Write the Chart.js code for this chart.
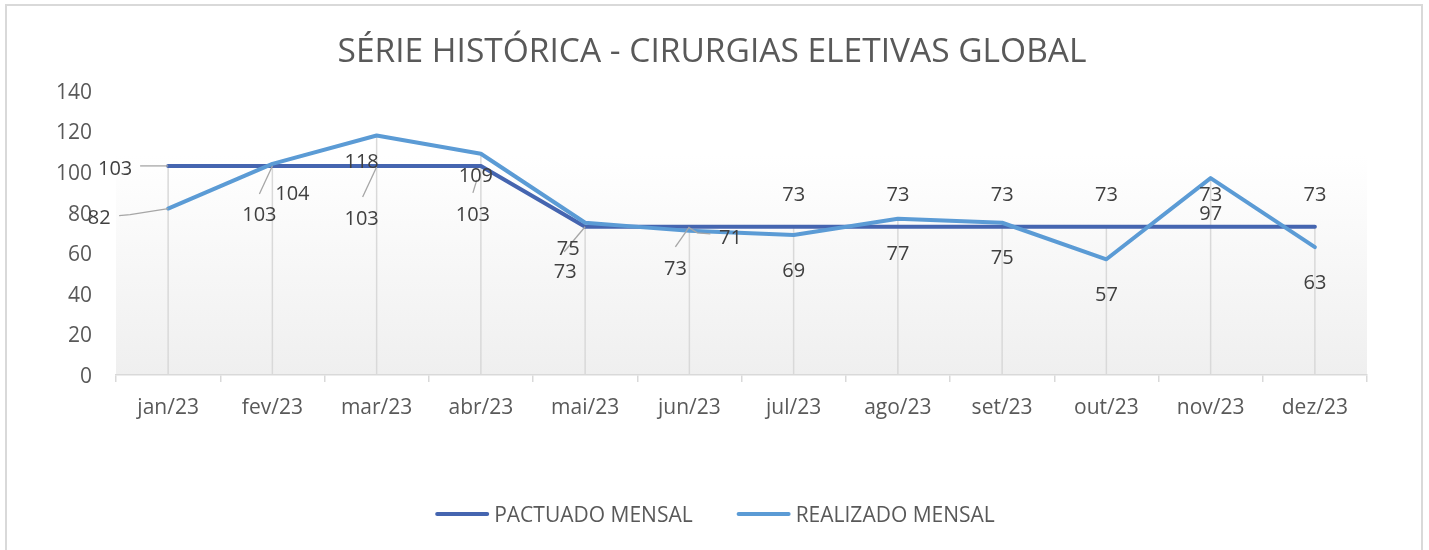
<!DOCTYPE html>
<html><head><meta charset="utf-8">
<script src="https://cdn.jsdelivr.net/npm/chart.js@4/dist/chart.umd.min.js"></script>
<style>html,body{margin:0;padding:0;background:#fff;}#wrap{width:1429px;height:550px;position:relative;}canvas{display:block;}</style>
</head><body><div id="wrap"><canvas id="c" width="1429" height="550"></canvas></div>
<script>
const categories = ['jan/23','fev/23','mar/23','abr/23','mai/23','jun/23','jul/23','ago/23','set/23','out/23','nov/23','dez/23'];
const pactuado = [103,103,103,103,73,73,73,73,73,73,73,73];
const realizado = [82,104,118,109,75,71,69,77,75,57,97,63];
const yTicks = [0,20,40,60,80,100,120,140];
const seriesNames = ['PACTUADO MENSAL','REALIZADO MENSAL'];
const chartTitle = 'SÉRIE HISTÓRICA - CIRURGIAS ELETIVAS GLOBAL';

// label placement (px offsets from each point) and leader polylines
const pactuadoLabelPos = [
  {dx:-53,dy:1,leader:[[-28,0],[0,0]]},
  {dx:-13,dy:47,leader:[[-13,28],[0,0]]},
  {dx:-15,dy:51,leader:[[-14,31],[0,1]]},
  {dx:-8,dy:47,leader:[[-8,27],[-4,14]]},
  {dx:-20,dy:43},
  {dx:-14,dy:40,leader:[[-14,20],[0,0]]},
  {dx:0,dy:-34},{dx:0,dy:-34},{dx:0,dy:-34},{dx:0,dy:-34},{dx:0,dy:-34},{dx:0,dy:-34}
];
const realizadoLabelPos = [
  {dx:-69,dy:8,leader:[[-49,7],[-38,6],[0,0]]},
  {dx:20,dy:28},
  {dx:-15,dy:25},
  {dx:-5,dy:21},
  {dx:-17,dy:25,leader:[[-21,29],[0,4]]},
  {dx:41,dy:5,leader:[[21,3],[8,2],[0,-3]]},
  {dx:0,dy:34},{dx:0,dy:34},{dx:0,dy:34},{dx:0,dy:34},{dx:0,dy:34},{dx:0,dy:34}
];
const labelPositions = [pactuadoLabelPos, realizadoLabelPos];

const FONT = "'Open Sans', sans-serif";
const TEXT_SHIFT = 2; // Open Sans sits a little high with 'middle' baseline

const decorPlugin = {
  id: 'decor',
  beforeDraw(chart) {
    const ctx = chart.ctx, ca = chart.chartArea, y = chart.scales.y, x = chart.scales.x;
    ctx.save();
    ctx.strokeStyle = '#d9d9d9'; ctx.lineWidth = 2;
    ctx.strokeRect(6, 5, 1416, 600);
    const top = y.getPixelForValue(108);
    const g = ctx.createLinearGradient(0, top, 0, ca.bottom);
    g.addColorStop(0, '#ffffff'); g.addColorStop(1, '#efefef');
    ctx.fillStyle = g;
    ctx.fillRect(ca.left, top, ca.right - ca.left, ca.bottom - top);
    ctx.strokeStyle = '#d9d9d9'; ctx.lineWidth = 1.5;
    const ds = chart.data.datasets;
    for (let i = 0; i < categories.length; i++) {
      const mx = Math.max(...ds.map(d => d.data[i]));
      const px = x.getPixelForValue(i);
      ctx.beginPath(); ctx.moveTo(px, y.getPixelForValue(mx)); ctx.lineTo(px, ca.bottom); ctx.stroke();
    }
    ctx.restore();
  },
  afterDatasetsDraw(chart) {
    const ctx = chart.ctx;
    ctx.save();
    ctx.font = '20px ' + FONT;
    ctx.textAlign = 'center'; ctx.textBaseline = 'middle';
    chart.data.datasets.forEach((d, di) => {
      const meta = chart.getDatasetMeta(di);
      meta.data.forEach((pt, i) => {
        const pos = labelPositions[di][i];
        if (pos.leader) {
          ctx.strokeStyle = '#a6a6a6'; ctx.lineWidth = 1.3;
          ctx.beginPath();
          pos.leader.forEach((p, k) => { const fx = pt.x + p[0], fy = pt.y + p[1]; k ? ctx.lineTo(fx, fy) : ctx.moveTo(fx, fy); });
          ctx.stroke();
        }
        ctx.fillStyle = '#404040';
        ctx.fillText(String(d.data[i]), pt.x + pos.dx, pt.y + pos.dy + TEXT_SHIFT);
      });
    });
    // legend
    ctx.font = '21px ' + FONT;
    ctx.textAlign = 'left';
    const sample = 54, gapS = 5, gapItems = 44;
    const widths = chart.data.datasets.map(d => sample + gapS + ctx.measureText(d.label).width);
    const total = widths.reduce((a, b) => a + b, 0) + gapItems;
    let lx = 715 - total / 2; const ly = 514;
    chart.data.datasets.forEach((d, di) => {
      ctx.strokeStyle = d.borderColor; ctx.lineWidth = 4; ctx.lineCap = 'round';
      ctx.beginPath(); ctx.moveTo(lx + 2, ly); ctx.lineTo(lx + sample - 2, ly); ctx.stroke();
      ctx.fillStyle = '#595959';
      ctx.fillText(d.label, lx + sample + gapS, ly + TEXT_SHIFT);
      lx += widths[di] + gapItems;
    });
    ctx.restore();
  }
};

function build() {
  new Chart(document.getElementById('c'), {
    type: 'line',
    data: {
      labels: categories,
      datasets: [
        {label: seriesNames[0], data: pactuado, borderColor: '#4565b0', borderWidth: 4, pointRadius: 0, tension: 0, borderCapStyle: 'round', borderJoinStyle: 'round', order: 2},
        {label: seriesNames[1], data: realizado, borderColor: '#5b9bd5', borderWidth: 4, pointRadius: 0, tension: 0, borderCapStyle: 'round', borderJoinStyle: 'round', order: 1}
      ]
    },
    options: {
      responsive: false, animation: false, devicePixelRatio: 1,
      layout: {padding: {left: 57, right: 62, top: 0, bottom: 130}},
      plugins: {
        legend: {display: false}, tooltip: {enabled: false},
        title: {display: true, text: chartTitle, color: '#595959', font: {family: FONT, size: 33.5, weight: 'normal'}, padding: {top: 32, bottom: 18.6}}
      },
      scales: {
        x: {
          offset: true,
          grid: {display: true, drawOnChartArea: false, drawTicks: true, tickLength: 7, offset: true, color: '#d9d9d9', lineWidth: 1.5},
          border: {display: true, color: '#d9d9d9', width: 1.5},
          ticks: {color: '#595959', font: {family: FONT, size: 21}, padding: 13, maxRotation: 0, autoSkip: false},
          afterFit(s) { s.height = 45; }
        },
        y: {
          min: 0, max: 140,
          afterBuildTicks(s) { s.ticks = yTicks.map(v => ({value: v})); },
          grid: {display: false, drawTicks: false},
          border: {display: false},
          ticks: {color: '#595959', font: {family: FONT, size: 21}, padding: 24, labelOffset: 2},
          afterFit(s) { s.width = 59; }
        }
      }
    },
    plugins: [decorPlugin]
  });
}
if (document.fonts && document.fonts.load) {
  Promise.all([document.fonts.load("20px 'Open Sans'")]).then(build, build);
} else build();
</script>
</body></html>
